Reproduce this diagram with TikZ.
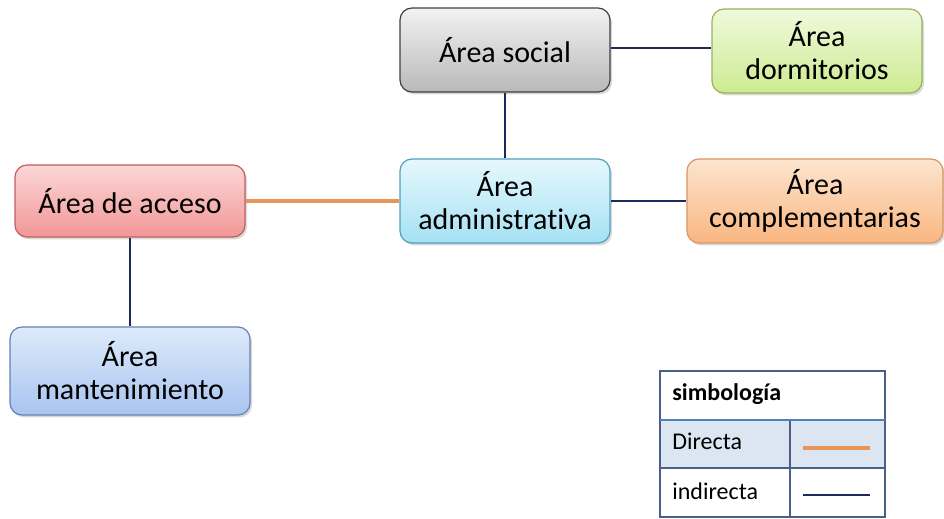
\documentclass[tikz,border=0pt]{standalone}
\usepackage{fontspec}
\setmainfont{Carlito}[RawFeature={-liga;-dlig;-clig}]
\usetikzlibrary{shadows}

\definecolor{navyline}{HTML}{1F2A5C}
\definecolor{orangeline}{HTML}{E8955A}
\definecolor{tablerule}{HTML}{4A5F85}
\definecolor{tablehead}{HTML}{4F81BD}
\definecolor{tablefill}{HTML}{DCE6F2}

\tikzset{
  area/.style={rounded corners=6pt, align=center, inner sep=0pt,
    minimum width=105pt, minimum height=42pt, line width=0.6pt,
    font=\fontsize{15}{16.5}\selectfont,
    drop shadow={opacity=0.3, shadow xshift=1pt, shadow yshift=-1.2pt}},
  graybox/.style={area, draw=black!75, top color={rgb,255:red,242;green,242;blue,242}, bottom color={rgb,255:red,185;green,185;blue,185}},
  greenbox/.style={area, draw={rgb,255:red,150;green,180;blue,90}, top color={rgb,255:red,240;green,249;blue,220}, bottom color={rgb,255:red,205;green,235;blue,145}},
  bluebox/.style={area, draw={rgb,255:red,80;green,160;blue,190}, top color={rgb,255:red,230;green,248;blue,253}, bottom color={rgb,255:red,165;green,225;blue,243}},
  orangebox/.style={area, draw={rgb,255:red,215;green,150;blue,100}, top color={rgb,255:red,253;green,229;blue,207}, bottom color={rgb,255:red,249;green,182;blue,128}},
  redbox/.style={area, draw={rgb,255:red,190;green,95;blue,95}, top color={rgb,255:red,252;green,215;blue,215}, bottom color={rgb,255:red,242;green,150;blue,150}},
  steelbox/.style={area, draw={rgb,255:red,100;green,130;blue,180}, top color={rgb,255:red,222;green,234;blue,251}, bottom color={rgb,255:red,168;green,196;blue,240}},
  indirect/.style={draw=navyline, line width=0.6pt},
  direct/.style={draw=orangeline, line width=2pt},
  legendtext/.style={anchor=west, inner sep=0pt, font=\fontsize{12}{14}\selectfont}
}

\begin{document}
\begin{tikzpicture}[x=0.5pt, y=-0.5pt]
  \useasboundingbox (0,0) rectangle (944,519);
  % Area boxes.
  \node[graybox] (social) at (505,50) {Área social};
  \node[greenbox] (dorm) at (817,51) {Área\\dormitorios};
  \node[bluebox] (admin) at (505,201) {Área\\administrativa};
  \node[orangebox, minimum width=128pt] (compl) at (815,201) {Área\\complementarias};
  \node[redbox, minimum width=115pt, minimum height=36pt] (acceso) at (130,201) {Área de acceso};
  \node[steelbox, minimum width=120pt, minimum height=44pt] (mant) at (130,371) {Área\\mantenimiento};
  % Connectors between areas.
  \draw[indirect] (social.east |- 0,48) -- (dorm.west |- 0,48);
  \draw[indirect] (social) -- (admin);
  \draw[indirect] (admin) -- (compl);
  \draw[direct] (acceso) -- (admin);
  \draw[indirect] (acceso) -- (mant);
  % Legend table.
  \fill[tablefill] (660,420) rectangle (885,468);
  \draw[tablerule, line width=0.6pt] (660,371) rectangle (885,517);
  \draw[tablerule, line width=0.6pt] (790,420) -- (790,517);
  \draw[tablerule, line width=0.6pt] (660,468) -- (885,468);
  \draw[tablehead, line width=1.2pt] (660,420) -- (885,420);
  \node[legendtext, font=\fontsize{12}{14}\selectfont\bfseries] (simb) at (672,394) {simbología};
  \node[legendtext] (dir) at (672,441) {Directa};
  \node[legendtext] (indir) at (672,491) {indirecta};
  \coordinate (dirA) at (803,448);
  \coordinate (dirB) at (870,448);
  \coordinate (indA) at (803,495);
  \coordinate (indB) at (870,495);
  \draw[direct, drop shadow={opacity=0.3, shadow xshift=0.5pt, shadow yshift=-0.8pt}] (dirA) -- (dirB);
  \draw[indirect] (indA) -- (indB);
\end{tikzpicture}
\end{document}
